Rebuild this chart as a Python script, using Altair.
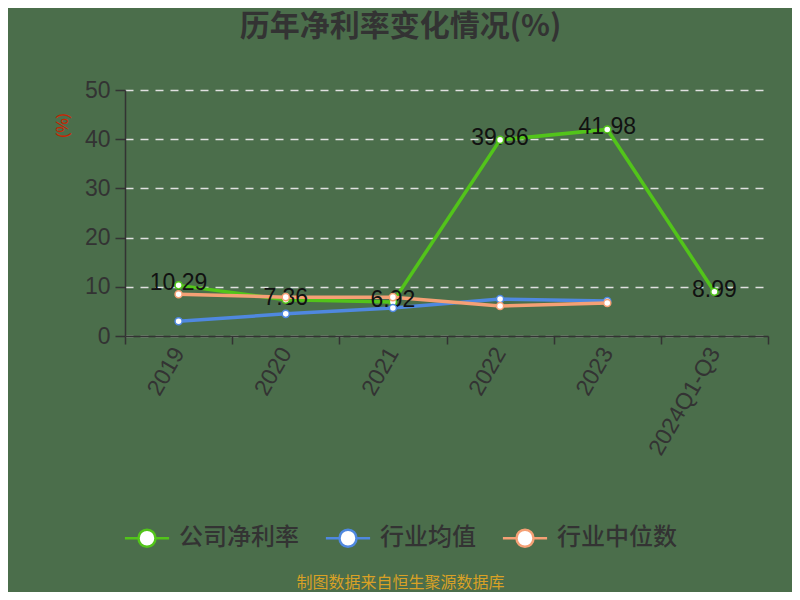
import altair as alt
import pandas as pd

years = ["2019", "2020", "2021", "2022", "2023", "2024Q1-Q3"]
series_names = ["公司净利率", "行业均值", "行业中位数"]
company = [10.29, 7.36, 6.92, 39.86, 41.98, 8.99]
industry_avg = [3.0, 4.5, 5.7, 7.5, 7.1, None]
industry_median = [8.5, 7.9, 7.9, 6.1, 6.7, None]
colors = ["#52c41a", "#4f88e0", "#f5a075"]

rows = []
for s, vals in zip(series_names, [company, industry_avg, industry_median]):
    for i, (y, v) in enumerate(zip(years, vals)):
        if v is not None:
            rows.append({"year": y, "series": s, "value": v, "order": series_names.index(s),
                         "label": f"{v:.2f}" if s == "公司净利率" else ""})
df = pd.DataFrame(rows)

FONT = "Liberation Sans"
legend_path = "M-2.6,0L-1,0M1,0L2.6,0M1,0A1,1,0,1,1,-1,0A1,1,0,1,1,1,0"

x_enc = alt.X("year:N", sort=years,
              scale=alt.Scale(type="band", paddingInner=0, paddingOuter=0),
              axis=alt.Axis(title="制图数据来自恒生聚源数据库", titleColor="#d9a126",
                            titleFontSize=16, titleFontWeight="normal", titleFont="Noto Sans CJK SC",
                            titleX=275, titleY=246, titleAlign="center", titleBaseline="middle",
                            labelAngle=300, labelFontSize=23, labelColor="#333333", labelFont=FONT,
                            labelPadding=5, tickBand="extent", tickSize=8, tickColor="#333333",
                            domainColor="#333333", domainWidth=1.5, tickWidth=1.5, grid=False))
y_enc = alt.Y("value:Q", scale=alt.Scale(domain=[0, 50], nice=False),
              axis=alt.Axis(title="(%)", titleColor="#cc2200", titleFontSize=16,
                            titleFontWeight="normal", titleFont=FONT, titleX=-63, titleY=35,
                            titleAlign="center", titleBaseline="middle",
                            values=[0, 10, 20, 30, 40, 50], labelFontSize=23,
                            labelColor="#333333", labelFont=FONT, labelPadding=5,
                            tickSize=10, tickColor="#333333", tickWidth=1.5,
                            domainColor="#333333", domainWidth=1.5,
                            grid=True, gridColor="#e0e0e0", gridDash=[8, 7], gridWidth=1.5))
color_enc = alt.Color("series:N", sort=series_names,
                      scale=alt.Scale(domain=series_names, range=colors),
                      legend=alt.Legend(title=None, orient="none", direction="horizontal",
                                        legendX=10, legendY=436, symbolType=legend_path,
                                        symbolSize=289, symbolStrokeWidth=2.5,
                                        symbolFillColor="white", labelFontSize=24,
                                        labelFontWeight=500,
                                        labelColor="#333333", labelFont="Noto Sans CJK SC",
                                        labelOffset=20, columnPadding=21))

base = alt.Chart(df)
lines = base.mark_line(strokeWidth=3.5).encode(x=x_enc, y=y_enc, color=color_enc,
                                                order=alt.Order("order:Q"))
texts = base.transform_filter(alt.datum.series == "公司净利率").mark_text(
    fontSize=23, font=FONT, color="#111111", dy=-2, baseline="middle", align="center"
).encode(x=alt.X("year:N", sort=years), y="value:Q", text="label:N")
points = base.mark_point(filled=False, fill="white", fillOpacity=1, size=50, strokeWidth=1.5,
                         opacity=1).encode(x=alt.X("year:N", sort=years), y="value:Q",
                                           color=color_enc, order=alt.Order("order:Q"))

chart = alt.layer(lines, texts, points).properties(
    width=643, height=246,
    background="#4b6e4b",
    padding={"left": 117, "top": 82, "right": 24, "bottom": 256},
    autosize=alt.AutoSizeParams(type="none"),
    title=alt.TitleParams("历年净利率变化情况(%)", fontSize=30, fontWeight="bold", color="#333333",
                          font="Noto Sans CJK SC", anchor="middle", dx=-46, offset=37),
).configure_view(stroke=None)

chart.save("out.html", embed_options={"renderer": "svg", "actions": False})
